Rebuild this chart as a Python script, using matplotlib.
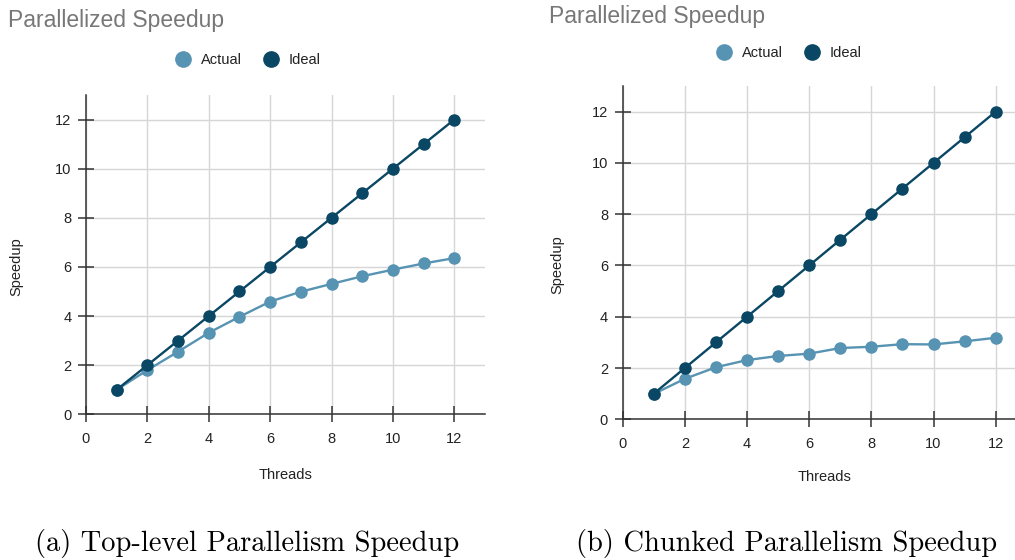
import matplotlib
matplotlib.use("Agg")
import matplotlib.pyplot as plt
from matplotlib.lines import Line2D

# data
threads = [1, 2, 3, 4, 5, 6, 7, 8, 9, 10, 11, 12]
ideal = [1, 2, 3, 4, 5, 6, 7, 8, 9, 10, 11, 12]
actual_top = [1.0, 1.80, 2.55, 3.32, 3.97, 4.59, 4.99, 5.31, 5.62, 5.89, 6.14, 6.36]
actual_chunked = [0.99, 1.58, 2.03, 2.31, 2.47, 2.56, 2.78, 2.83, 2.93, 2.92, 3.04, 3.18]
ticks = [0, 2, 4, 6, 8, 10, 12]
captions = ["(a) Top-level Parallelism Speedup", "(b) Chunked Parallelism Speedup"]

ACTUAL_C = "#5793b2"
IDEAL_C = "#0a4764"
SANS = "Liberation Sans"

W, H = 1015, 560
fig = plt.figure(figsize=(W / 100, H / 100), dpi=100)


def px_rect(left, top, right, bottom):
    return [left / W, 1 - bottom / H, (right - left) / W, (bottom - top) / H]


def draw_panel(rect, actual, title_xy, legend_xy, ylabel_x, xlabel_y, caption, caption_x):
    ax = fig.add_axes(rect)
    ax.plot(threads, actual, color=ACTUAL_C, lw=1.7, marker="o", ms=8, zorder=3)
    ax.plot(threads, ideal, color=IDEAL_C, lw=1.7, marker="o", ms=8, zorder=4)
    ax.set_xlim(0, 13)
    ax.set_ylim(0, 13)
    ax.set_xticks(ticks)
    ax.set_yticks(ticks)
    ax.grid(True, color="#d6d6d6", lw=1)
    ax.set_axisbelow(True)
    for s in ["top", "right"]:
        ax.spines[s].set_visible(False)
    for s in ["left", "bottom"]:
        ax.spines[s].set_color("#333333")
        ax.spines[s].set_linewidth(1.1)
    ax.tick_params(direction="inout", length=11, width=1.1, color="#333333",
                   labelsize=10.5, labelcolor="#222222")
    ax.tick_params(axis="x", pad=7)
    ax.tick_params(axis="y", pad=5)
    for lab in ax.get_xticklabels() + ax.get_yticklabels():
        lab.set_fontfamily(SANS)

    # panel title, top left
    fig.text(title_xy[0] / W, 1 - title_xy[1] / H, "Parallelized Speedup",
             fontsize=16.5, color="#777777", family=SANS, ha="left", va="center")
    handles = [Line2D([], [], ls="none", marker="o", ms=11, color=ACTUAL_C),
               Line2D([], [], ls="none", marker="o", ms=11, color=IDEAL_C)]
    leg = fig.legend(handles, ["Actual", "Ideal"], loc="center", ncol=2, frameon=False,
                     bbox_to_anchor=(legend_xy[0] / W, 1 - legend_xy[1] / H),
                     prop={"family": SANS, "size": 10.5}, handletextpad=0.7,
                     columnspacing=1.5, handlelength=1.0)
    for t in leg.get_texts():
        t.set_color("#222222")

    mid_y = (1 - (rect[1] + rect[3] / 2)) * H + 12
    fig.text(ylabel_x / W, 1 - mid_y / H, "Speedup", rotation=90,
             fontsize=10.5, family=SANS, color="#222222", ha="center", va="center")
    fig.text(rect[0] + rect[2] * 6.5 / 13, 1 - xlabel_y / H,
             "Threads", fontsize=10.5, family=SANS, color="#222222", ha="center", va="center")
    fig.text(caption_x / W, 1 - 543 / H, caption, fontsize=20.5, family="cmr10",
             ha="center", va="center", color="black")
    return ax


draw_panel(px_rect(86, 95, 485, 414.3), actual_top, (8, 20), (248, 60), 16, 475,
           captions[0], 247)
draw_panel(px_rect(622.7, 86, 622.7 + 13 * 31.08, 419.3), actual_chunked, (549, 17),
           (789, 53), 557, 477, captions[1], 787)

fig.savefig("out.png", dpi=100)
